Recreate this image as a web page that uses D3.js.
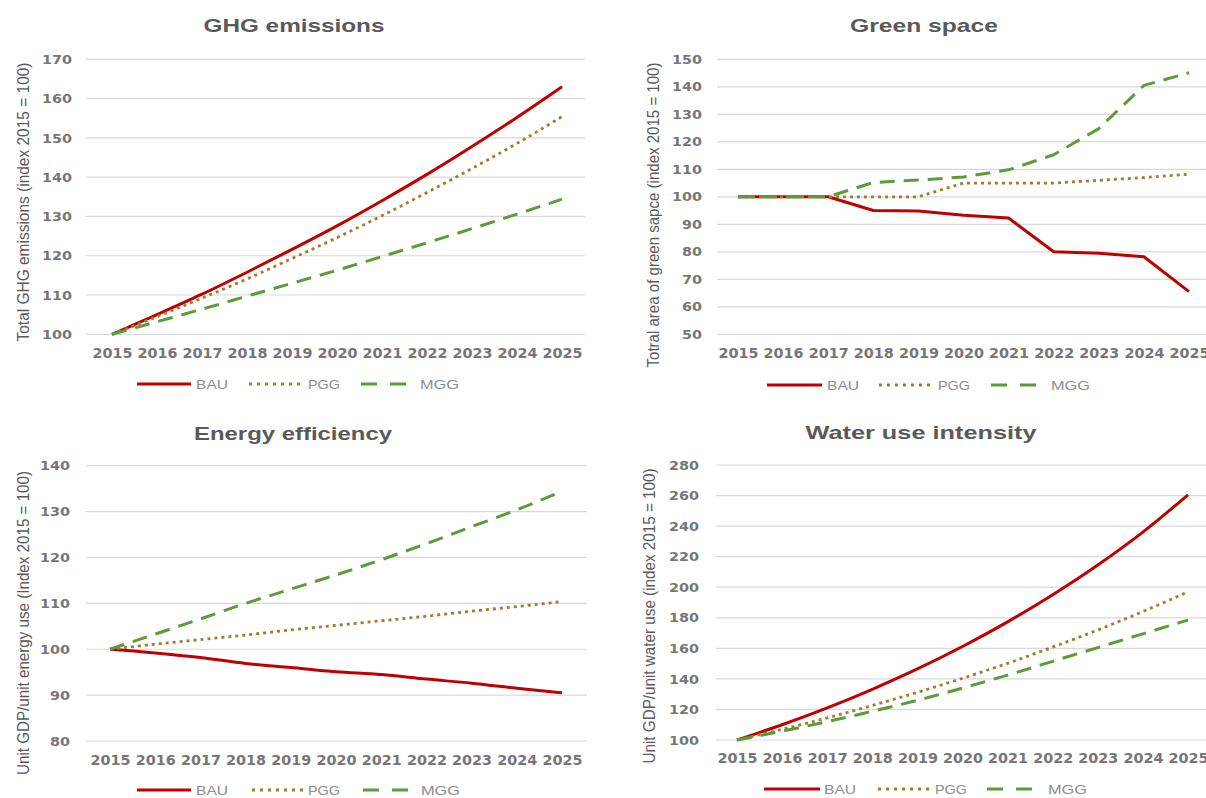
<!DOCTYPE html>
<html>
<head>
<meta charset="utf-8">
<script src="https://cdn.jsdelivr.net/npm/d3@7"></script>
<style>
  html, body { margin: 0; padding: 0; background: #ffffff; }
  svg { display: block; }
</style>
</head>
<body>
<svg id="chart" width="1206" height="798"></svg>
<script>
// ---------------- DATA ----------------
const years = [2015, 2016, 2017, 2018, 2019, 2020, 2021, 2022, 2023, 2024, 2025];
const seriesNames = ["BAU", "PGG", "MGG"];

const ghgBAU = [100, 105, 110.2, 115.8, 121.6, 127.6, 134, 140.7, 147.8, 155.2, 163];
const ghgPGG = [100, 104.5, 109.2, 114.1, 119.3, 124.6, 130.2, 136.1, 142.2, 148.6, 155.4];
const ghgMGG = [100, 103.2, 106.4, 109.7, 113, 116.3, 119.8, 123.3, 126.9, 130.6, 134.4];
const ghgTicks = [100, 110, 120, 130, 140, 150, 160, 170];

const greenBAU = [100, 100, 100, 95, 94.8, 93.3, 92.3, 80, 79.5, 78.2, 65.5];
const greenPGG = [100, 100, 100, 100, 100, 105, 105, 105, 106, 107, 108.2];
const greenMGG = [100, 100, 100, 105.2, 106.1, 107.2, 109.8, 115.3, 124.8, 140.5, 145.1];
const greenTicks = [50, 60, 70, 80, 90, 100, 110, 120, 130, 140, 150];

const energyBAU = [100, 99.2, 98.2, 96.9, 96, 95.1, 94.5, 93.5, 92.6, 91.5, 90.5];
const energyPGG = [100, 101.1, 102.1, 103.1, 104.2, 105.2, 106.2, 107.2, 108.3, 109.3, 110.4];
const energyMGG = [100, 103.3, 106.6, 110, 113.1, 116.2, 119.5, 123, 126.7, 130.4, 134.4];
const energyTicks = [80, 90, 100, 110, 120, 130, 140];

const waterBAU = [100, 110, 121, 133.2, 146.5, 161.2, 177.3, 195.1, 214.6, 236.1, 260.5];
const waterPGG = [100, 107, 114.5, 122.6, 131.2, 140.4, 150.2, 160.8, 172, 184.1, 197];
const waterMGG = [100, 105.8, 112, 118.8, 126, 134, 142.5, 151.5, 160.5, 169.5, 178.5];
const waterTicks = [100, 120, 140, 160, 180, 200, 220, 240, 260, 280];

const titles = ["GHG emissions", "Green space", "Energy efficiency", "Water use intensity"];
const yTitles = [
  "Total GHG emissions (index 2015 = 100)",
  "Totral area of green sapce (index 2015 = 100)",
  "Unit GDP/unit energy use  (Index 2015 = 100)",
  "Unit GDP/unit water use (index 2015 = 100)"
];

// ---------------- STYLE / LAYOUT ----------------
const colors = { BAU: "#c00000", PGG: "#a07c2c", MGG: "#5c9a3c" };
const dashes = { BAU: null, PGG: "3,4", MGG: "15,9" };
const legendDashes = { BAU: null, PGG: "3,5", MGG: "16,13" };

const panels = [
  { series: [ghgBAU, ghgPGG, ghgMGG], ticks: ghgTicks, domain: [100, 170],
    xr: [112, 562], yr: [334.3, 59.3], grid: [86, 585], yPad: 14, xPad: 14,
    title: [294, 25, 181], ytitle: [23, 202, 279], curve: d3.curveMonotoneX,
    legendY: 384, legX: [[137, 191, 196], [249, 303, 308], [361, 406, 420]] },
  { series: [greenBAU, greenPGG, greenMGG], ticks: greenTicks, domain: [50, 150],
    xr: [738, 1189], yr: [334.3, 59.3], grid: [717, 1206], yPad: 15, xPad: 14,
    title: [924, 25, 148], ytitle: [653, 215, 305], curve: d3.curveLinear,
    legendY: 385, legX: [[767, 822, 827], [879, 933, 938], [991, 1037, 1051]] },
  { series: [energyBAU, energyPGG, energyMGG], ticks: energyTicks, domain: [80, 140],
    xr: [110, 562], yr: [741, 465.7], grid: [86, 587], yPad: 16, xPad: 14.3,
    title: [293, 433, 198], ytitle: [23, 623, 304], curve: d3.curveMonotoneX,
    legendY: 790, legX: [[137, 191, 196], [252, 304, 308], [363, 408, 421]] },
  { series: [waterBAU, waterPGG, waterMGG], ticks: waterTicks, domain: [100, 280],
    xr: [737, 1188], yr: [740, 465], grid: [716, 1206], yPad: 17, xPad: 13.3,
    title: [921, 432, 231], ytitle: [649, 616, 295], curve: d3.curveMonotoneX,
    legendY: 789, legX: [[764, 820, 824], [878, 930, 935], [987, 1035, 1048]] }
];

const svg = d3.select("#chart");
const tickFont = "'DejaVu Sans', Verdana, sans-serif";

panels.forEach((p, i) => {
  const g = svg.append("g");
  const x = d3.scaleLinear().domain([years[0], years[years.length - 1]]).range(p.xr);
  const y = d3.scaleLinear().domain(p.domain).range(p.yr);

  // gridlines
  g.append("g").selectAll("line").data(p.ticks).join("line")
    .attr("x1", p.grid[0]).attr("x2", p.grid[1])
    .attr("y1", d => y(d)).attr("y2", d => y(d))
    .attr("stroke", "#d9d9d9").attr("stroke-width", 1.2);

  // y axis
  const ya = g.append("g").attr("transform", `translate(${p.grid[0]},0)`)
    .call(d3.axisLeft(y).tickValues(p.ticks).tickSize(0).tickPadding(p.yPad).tickFormat(d3.format("d")));
  ya.select(".domain").remove();
  ya.selectAll("text")
    .attr("font-family", tickFont).attr("font-weight", "bold").attr("font-size", 13)
    .attr("fill", "#767676")
    .attr("textLength", d => String(d).length * 10).attr("lengthAdjust", "spacingAndGlyphs");

  // x axis
  const xa = g.append("g").attr("transform", `translate(0,${p.yr[0]})`)
    .call(d3.axisBottom(x).tickValues(years).tickSize(0).tickPadding(p.xPad).tickFormat(d3.format("d")));
  xa.select(".domain").remove();
  xa.selectAll("text")
    .attr("font-family", tickFont).attr("font-weight", "bold").attr("font-size", 13.5)
    .attr("fill", "#767676")
    .attr("textLength", 40).attr("lengthAdjust", "spacingAndGlyphs");

  // lines
  const line = d3.line().x((d, k) => x(years[k])).y(d => y(d)).curve(p.curve);
  seriesNames.forEach((name, k) => {
    g.append("path").datum(p.series[k])
      .attr("d", line)
      .attr("fill", "none")
      .attr("stroke", colors[name])
      .attr("stroke-width", name === "PGG" ? 2.8 : 3)
      .attr("stroke-dasharray", dashes[name])
      .attr("stroke-linejoin", "round");
  });

  // title
  g.append("text").text(titles[i])
    .attr("x", p.title[0]).attr("y", p.title[1]).attr("dy", "0.35em")
    .attr("text-anchor", "middle")
    .attr("font-family", "'Liberation Sans', Arial, sans-serif").attr("font-weight", "bold")
    .attr("font-size", 19).attr("fill", "#595959")
    .attr("textLength", p.title[2]).attr("lengthAdjust", "spacingAndGlyphs");

  // y title
  g.append("text").text(yTitles[i])
    .attr("transform", `translate(${p.ytitle[0]},${p.ytitle[1]}) rotate(-90)`)
    .attr("dy", "0.35em").attr("text-anchor", "middle")
    .attr("font-family", "'Liberation Sans Narrow', 'Liberation Sans', Arial, sans-serif")
    .attr("font-size", 16).attr("fill", "#595959")
    .attr("textLength", p.ytitle[2]).attr("lengthAdjust", "spacingAndGlyphs");

  // legend
  const lg = g.append("g");
  const legLen = { BAU: 32, PGG: 32, MGG: 39 };
  seriesNames.forEach((name, k) => {
    const [a, b, t] = p.legX[k];
    lg.append("line")
      .attr("x1", a).attr("x2", b).attr("y1", p.legendY).attr("y2", p.legendY)
      .attr("stroke", colors[name]).attr("stroke-width", name === "PGG" ? 2.8 : 3)
      .attr("stroke-dasharray", legendDashes[name]);
    lg.append("text").text(name)
      .attr("x", t).attr("y", p.legendY).attr("dy", "0.35em")
      .attr("font-family", "'Liberation Sans', Arial, sans-serif")
      .attr("font-size", 13).attr("fill", "#8c8c8c")
      .attr("textLength", legLen[name]).attr("lengthAdjust", "spacingAndGlyphs");
  });
});
</script>
</body>
</html>
